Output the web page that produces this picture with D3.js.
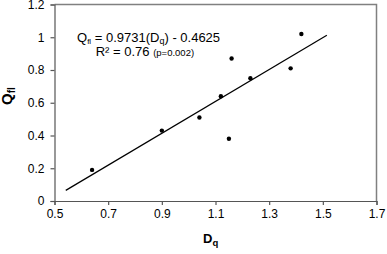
<!DOCTYPE html>
<html>
<head>
<meta charset="utf-8">
<script src="https://cdnjs.cloudflare.com/ajax/libs/d3/7.8.5/d3.min.js"></script>
<style>
  body { margin: 0; background: #fff; }
  #chart { width: 387px; height: 254px; }
  text { font-family: "Liberation Sans", Arial, sans-serif; fill: #000; }
</style>
</head>
<body>
<div id="chart"></div>
<script>
// data
const dqValues  = [0.64, 0.90, 1.04, 1.12, 1.15, 1.16, 1.23, 1.38, 1.42];
const qflValues = [0.19, 0.43, 0.51, 0.64, 0.38, 0.87, 0.75, 0.81, 1.02];
const xTicks = [0.5, 0.7, 0.9, 1.1, 1.3, 1.5, 1.7];
const yTicks = [0, 0.2, 0.4, 0.6, 0.8, 1, 1.2];
const fitSlope = 0.9731;
const fitIntercept = -0.4625;
const fitRange = [0.542, 1.515];

const initial_width = 387, initial_height = 254;
const margin = {top: 4.5, right: 10.5, bottom: 53, left: 54.5},
    width = initial_width - margin.left - margin.right,
    height = initial_height - margin.top - margin.bottom;

const svg = d3.select("#chart")
  .append("svg")
    .attr("width", initial_width)
    .attr("height", initial_height)
  .append("g")
    .attr("transform", "translate(" + margin.left + "," + margin.top + ")");

const xScale = d3.scaleLinear().domain([0.5, 1.7]).range([0, width]);
const yScale = d3.scaleLinear().domain([0, 1.2]).range([height, 0]);

// frame on top / right
svg.append("path")
  .attr("d", `M0,0H${width}V${height}`)
  .attr("fill", "none")
  .attr("stroke", "#808080")
  .attr("stroke-width", 1.5);

// axes
const xAxis = d3.axisBottom(xScale).tickValues(xTicks).tickSize(4).tickPadding(4)
  .tickFormat(d => d3.format("")(+d.toFixed(1)));
const yAxis = d3.axisLeft(yScale).tickValues(yTicks).tickSize(4).tickPadding(6)
  .tickFormat(d => d3.format("")(+d.toFixed(1)));

const gx = svg.append("g")
  .attr("transform", "translate(0," + height + ")")
  .call(xAxis);
const gy = svg.append("g").call(yAxis);

[gx, gy].forEach(g => {
  g.select(".domain").attr("stroke", "#555").attr("stroke-width", 1.2);
  g.selectAll(".tick line").attr("stroke", "#555").attr("stroke-width", 1.2);
  g.selectAll("text")
    .style("font-family", '"Liberation Sans", Arial, sans-serif')
    .style("font-size", "12px")
    .attr("fill", "#000");
});

// trend line
svg.append("line")
  .attr("x1", xScale(fitRange[0]))
  .attr("y1", yScale(fitSlope * fitRange[0] + fitIntercept))
  .attr("x2", xScale(fitRange[1]))
  .attr("y2", yScale(fitSlope * fitRange[1] + fitIntercept))
  .attr("stroke", "#000")
  .attr("stroke-width", 1.2);

// points
svg.selectAll(".pt")
  .data(d3.zip(dqValues, qflValues))
  .enter()
  .append("circle")
  .attr("class", "pt")
  .attr("cx", d => xScale(d[0]))
  .attr("cy", d => yScale(d[1]))
  .attr("r", 2.2)
  .attr("fill", "#000");

// equation
const eq1 = svg.append("text")
  .attr("x", 77 - margin.left)
  .attr("y", 41.7 - margin.top)
  .style("font-size", "13px");
eq1.append("tspan").text("Q");
eq1.append("tspan").attr("dy", 2).style("font-size", "8px").text("fl");
eq1.append("tspan").attr("dy", -2).text(" = " + fitSlope + "(D");
eq1.append("tspan").attr("dy", 2).style("font-size", "9px").text("q");
eq1.append("tspan").attr("dy", -2).text(") - " + Math.abs(fitIntercept));

const eq2 = svg.append("text")
  .attr("x", 95.7 - margin.left)
  .attr("y", 55.5 - margin.top)
  .style("font-size", "13px");
eq2.append("tspan").text("R\u00B2 = 0.76 ");
eq2.append("tspan").style("font-size", "9.5px").text("(p=0.002)");

// axis labels
const xl = svg.append("text")
  .attr("x", 203 - margin.left)
  .attr("y", 242.5 - margin.top)
  .style("font-size", "13px")
  .style("font-weight", "bold");
xl.append("tspan").text("D");
xl.append("tspan").attr("dy", 3).style("font-size", "9.5px").text("q");

const yl = svg.append("text")
  .attr("text-anchor", "middle")
  .attr("transform", `translate(${12 - margin.left},${96 - margin.top}) rotate(-90)`)
  .style("font-size", "15px")
  .style("font-weight", "bold");
yl.append("tspan").text("Q");
yl.append("tspan").attr("dy", 3).style("font-size", "10px").text("fl");
</script>
</body>
</html>
